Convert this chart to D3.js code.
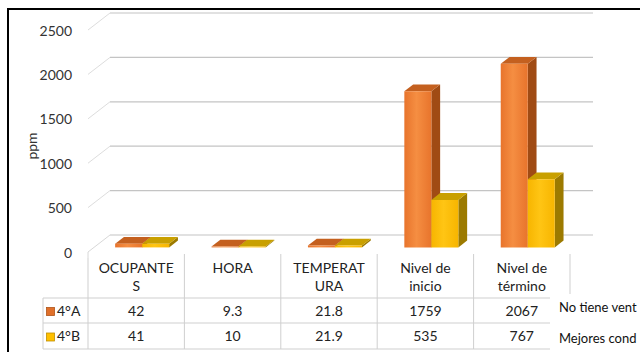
<!DOCTYPE html>
<html>
<head>
<meta charset="utf-8">
<script src="https://cdn.jsdelivr.net/npm/d3@7"></script>
<style>
  html, body { margin: 0; padding: 0; background: #fff; }
  svg { display: block; font-family: Lato, "Open Sans", sans-serif; }
</style>
</head>
<body>
<svg id="chart" width="640" height="352"></svg>
<script>
// Categories (two-line headers in the data table)
const categories = ["OCUPANTES", "HORA", "TEMPERATURA", "Nivel de inicio", "Nivel de término"];
const headerLines = [["OCUPANTE", "S"], ["HORA"], ["TEMPERAT", "URA"], ["Nivel de", "inicio"], ["Nivel de", "término"]];
const seriesNames = ["4°A", "4°B"];
const valuesA = [42, 9.3, 21.8, 1759, 2067];
const valuesB = [41, 10, 21.9, 535, 767];
const tickValues = [0, 500, 1000, 1500, 2000, 2500];
const notes = ["No tiene vent", "Mejores cond"];

const svg = d3.select("#chart");
const W = 640, H = 352;

// 3D projection: depth offset of the floor
const DX = 22, DY = -17;
const y = d3.scaleLinear().domain([0, 2500]).range([252, 30]);
const x0 = d3.scaleBand().domain(categories).range([88, 570]);
const x1 = d3.scaleBand().domain(seriesNames).range([0, x0.bandwidth()]).paddingOuter(0.785);
const tFront = 0.27, tBack = 0.67;

const P = (px, v, t) => [px + DX * t, y(v) + DY * t];

// Gradients for bar fronts
const defs = svg.append("defs");
function grad(id, edge, mid) {
  const g = defs.append("linearGradient").attr("id", id).attr("x1", "0").attr("x2", "1").attr("y1", "0").attr("y2", "0");
  g.append("stop").attr("offset", "0%").attr("stop-color", edge);
  g.append("stop").attr("offset", "45%").attr("stop-color", mid);
  g.append("stop").attr("offset", "100%").attr("stop-color", edge);
}
grad("gA", "#E8742C", "#F58E42");
grad("gB", "#F7B500", "#FFC514");

const styles = {
  "4°A": { front: "url(#gA)", side: "#A04B14", top: "#C4601F", key: "#E0702A", keyStroke: "#B05418" },
  "4°B": { front: "url(#gB)", side: "#9C7A00", top: "#C9A000", key: "#FFC000", keyStroke: "#C09000" }
};

// Back wall gridlines and side wall slants
const grid = svg.append("g");
tickValues.forEach(v => {
  const [bx, by] = P(88, v, 1);
  const [ex] = P(570, v, 1);
  grid.append("line").attr("x1", bx).attr("x2", ex + 1).attr("y1", by).attr("y2", by)
    .attr("stroke", "#C4C4C4").attr("stroke-width", 1.2);
  if (v > 0) {
    grid.append("line").attr("x1", 88).attr("y1", y(v)).attr("x2", bx).attr("y2", by)
      .attr("stroke", "#DDDDDD").attr("stroke-width", 1);
  }
});
// Floor edge
grid.append("path")
  .attr("d", `M88,${y(0) + 6} L88,${y(0)} L${88 + DX},${y(0) + DY}`)
  .attr("fill", "none").attr("stroke", "#D8D8D8").attr("stroke-width", 1);

// Y tick labels
svg.append("g").selectAll("text").data(tickValues).join("text")
  .attr("x", 72).attr("y", d => y(d) + 2)
  .attr("text-anchor", "end").attr("dominant-baseline", "middle")
  .attr("font-size", 14).attr("fill", "#333").text(d => d);

// Axis title
svg.append("text")
  .attr("transform", "translate(37,146) rotate(-90)")
  .attr("text-anchor", "middle").attr("font-size", 14).attr("fill", "#333").text("ppm");

// 3D bars
const barsG = svg.append("g");
function drawBar(cat, name, v) {
  const st = styles[name];
  const xl = x0(cat) + x1(name);
  const xr = xl + x1.bandwidth();
  const f0 = P(xl, 0, tFront), f1 = P(xr, 0, tFront);
  const f2 = P(xr, v, tFront), f3 = P(xl, v, tFront);
  const b1 = P(xr, 0, tBack), b2 = P(xr, v, tBack), b3 = P(xl, v, tBack);
  const pts = a => a.map(p => p.join(",")).join(" ");
  barsG.append("polygon").attr("points", pts([f1, b1, b2, f2])).attr("fill", st.side);
  barsG.append("polygon").attr("points", pts([f3, f2, b2, b3])).attr("fill", st.top);
  barsG.append("polygon").attr("points", pts([f0, f1, f2, f3])).attr("fill", st.front);
}
categories.forEach((c, i) => {
  drawBar(c, "4°A", valuesA[i]);
  drawBar(c, "4°B", valuesB[i]);
});

// Data table
const table = svg.append("g");
const lineCol = "#CFCFCF";
const rowY = [298, 323, 349];
rowY.forEach(ry => table.append("line").attr("x1", 43).attr("x2", 570).attr("y1", ry).attr("y2", ry)
  .attr("stroke", lineCol).attr("stroke-width", 1));
table.append("line").attr("x1", 43).attr("x2", 43).attr("y1", 298).attr("y2", 349).attr("stroke", lineCol);
const colEdges = categories.map(c => x0(c)).concat([x0.range()[1]]);
colEdges.forEach((cx, i) => table.append("line").attr("x1", cx).attr("x2", cx)
  .attr("y1", i === 0 ? y(0) + 6 : y(0) + 2).attr("y2", 349).attr("stroke", lineCol));

// Headers
categories.forEach((c, i) => {
  const cx = x0(c) + x0.bandwidth() / 2;
  headerLines[i].forEach((ln, j) => {
    table.append("text").attr("x", cx).attr("y", 269 + j * 18.5)
      .attr("text-anchor", "middle").attr("dominant-baseline", "middle")
      .attr("font-size", 14).attr("fill", "#222").text(ln);
  });
});

// Value rows
[valuesA, valuesB].forEach((vals, r) => {
  const cy = (rowY[r] + rowY[r + 1]) / 2 + 1.5;
  const name = seriesNames[r];
  table.append("rect").attr("x", 46.5).attr("y", cy - 4.5).attr("width", 8).attr("height", 8)
    .attr("fill", styles[name].key).attr("stroke", styles[name].keyStroke).attr("stroke-width", 0.8);
  table.append("text").attr("x", 57).attr("y", cy).attr("dominant-baseline", "middle")
    .attr("font-size", 14).attr("fill", "#222").text(name);
  vals.forEach((v, i) => {
    table.append("text").attr("x", x0(categories[i]) + x0.bandwidth() / 2).attr("y", cy)
      .attr("text-anchor", "middle").attr("dominant-baseline", "middle")
      .attr("font-size", 14).attr("fill", "#222").text(v);
  });
});

// Side notes box
svg.append("rect").attr("x", 550).attr("y", 294).attr("width", 90).attr("height", 58).attr("fill", "#fff");
notes.forEach((n, i) => {
  svg.append("text").attr("x", 559).attr("y", 309 + i * 30.5).attr("dominant-baseline", "middle")
    .attr("font-size", 13).attr("fill", "#111").text(n);
});

// Frame
svg.append("line").attr("x1", 8).attr("x2", W).attr("y1", 9).attr("y2", 9).attr("stroke", "#000").attr("stroke-width", 2);
svg.append("line").attr("x1", 8).attr("x2", 8).attr("y1", 8).attr("y2", H).attr("stroke", "#000").attr("stroke-width", 2);
</script>
</body>
</html>
